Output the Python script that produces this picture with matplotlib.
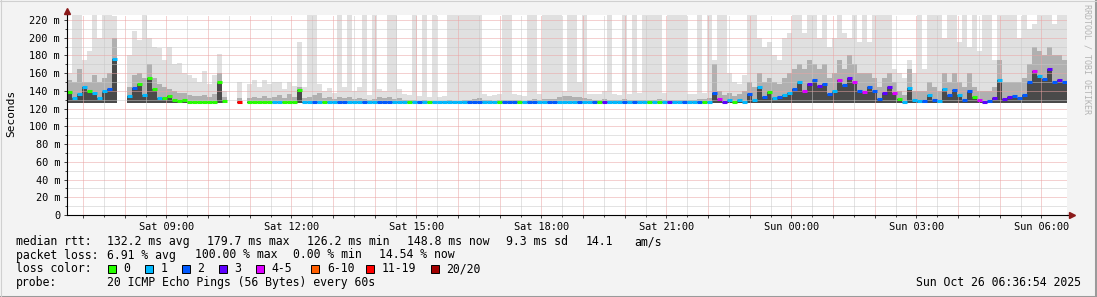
import numpy as np
import matplotlib.pyplot as plt
from matplotlib.patches import Rectangle
from matplotlib.lines import Line2D

nan = np.nan

# window: Sat 06:36:54 -> Sun 06:36:54, hours since Sat 00:00
T_START = 6 + 36 / 60 + 54 / 3600
STEP = 0.12          # hours per smoke column (200 columns)
BASE = 126.0         # lowest ping (ms)

# median rtt per column (ms)
med = [
    139, 132, 137, 145, 140, 138, 132, 140, 142, 176,
    nan, nan, 134, 143, 148, 135, 155, 142, 132, 132,
    134, 130, 129, 130, 128, 128, 128, 128, 128, 128,
    150, 129, nan, nan, 128, nan, 127, 127, 127, 127,
    127, 128, 128, 127, 128, 128, 141, 127, 127, 127,
    127, 127, 127, 127, 127, 127, 127, 127, 127, 127,
    127, 127, 127, 127, 127, 127, 127, 127, 127, 127,
    127, 127, 127, 127, 127, 127, 127, 127, 127, 127,
    127, 127, 127, 127, 127, 127, 127, 127, 127, 127,
    127, 127, 127, 127, 127, 127, 127, 127, 127, 127,
    127, 127, 127, 127, 127, 127, 127, 127, 127, 127,
    127, 127, 127, 127, 127, 127, 127, 127, 127, 127,
    127, 127, 127, 127, 127, 127, 127, 127, 127, 138,
    131, 128, 130, 128, 130, 128, 136, 130, 145, 133,
    139, 132, 133, 135, 138, 142, 150, 140, 148, 152,
    146, 148, 136, 140, 152, 147, 155, 150, 140, 139,
    145, 140, 131, 138, 144, 138, 131, 128, 143, 130,
    129, 129, 135, 130, 129, 142, 135, 141, 135, 130,
    140, 133, 130, 128, 129, 132, 152, 131, 133, 134,
    132, 135, 150, 162, 157, 153, 165, 150, 152, 150,
]

# loss class per column (index into LOSS_COLORS)
loss = [
    0, 1, 1, 1, 0, 1, 1, 1, 2, 1,
    0, 0, 1, 2, 0, 1, 0, 0, 1, 0,
    0, 0, 0, 0, 0, 0, 0, 0, 0, 0,
    0, 0, 0, 0, 6, 0, 0, 0, 0, 0,
    0, 1, 1, 0, 0, 0, 0, 1, 1, 2,
    1, 0, 1, 1, 2, 2, 1, 1, 1, 2,
    1, 1, 2, 2, 2, 1, 1, 1, 0, 1,
    2, 1, 0, 1, 1, 1, 1, 1, 1, 1,
    2, 2, 2, 1, 1, 1, 0, 2, 2, 2,
    0, 1, 2, 2, 1, 1, 2, 2, 1, 1,
    1, 1, 2, 1, 1, 2, 0, 3, 1, 1,
    1, 2, 1, 2, 1, 1, 0, 1, 0, 1,
    3, 1, 1, 2, 1, 1, 2, 0, 1, 2,
    4, 3, 1, 0, 1, 1, 2, 1, 1, 2,
    0, 1, 2, 1, 1, 2, 1, 4, 3, 2,
    3, 2, 2, 1, 4, 2, 3, 4, 2, 4,
    2, 2, 2, 3, 3, 4, 0, 1, 1, 1,
    1, 2, 1, 2, 1, 1, 2, 2, 1, 2,
    2, 0, 4, 3, 2, 3, 1, 3, 3, 2,
    2, 2, 2, 4, 1, 2, 3, 2, 3, 2,
]

# top of dense smoke per column (ms)
core = [
    152, 150, 165, 150, 150, 158, 150, 155, 160, 200,
    nan, nan, 145, 158, 160, 155, 170, 155, 148, 145,
    142, 140, 138, 138, 135, 134, 134, 135, 133, 136,
    160, 133, nan, nan, 132, nan, 132, 133, 132, 134,
    132, 133, 135, 132, 136, 133, 145, 132, 133, 135,
    138, 132, 133, 131, 133, 132, 133, 131, 132, 131,
    130, 131, 133, 132, 133, 131, 132, 130, 130, 130,
    129, 130, 129, 129, 129, 129, 130, 129, 129, 130,
    130, 131, 132, 130, 130, 129, 130, 130, 130, 130,
    130, 129, 130, 131, 130, 131, 131, 131, 133, 134,
    134, 133, 133, 132, 131, 130, 130, 131, 130, 130,
    130, 131, 130, 130, 130, 130, 130, 130, 131, 130,
    130, 130, 130, 130, 130, 130, 131, 131, 132, 170,
    140, 135, 138, 134, 136, 140, 150, 145, 160, 150,
    155, 150, 148, 155, 160, 165, 170, 165, 175, 170,
    165, 170, 155, 160, 175, 165, 180, 170, 160, 160,
    160, 155, 145, 155, 160, 150, 140, 135, 165, 140,
    140, 140, 150, 145, 140, 160, 150, 160, 150, 145,
    160, 145, 140, 140, 140, 145, 175, 150, 150, 150,
    150, 155, 170, 190, 185, 180, 190, 180, 180, 175,
]

# highest ping per column (ms), 230 = off the top of the graph
hi = [
    160, 230, 230, 175, 185, 230, 200, 230, 230, 225,
    nan, nan, 180, 208, 198, 230, 200, 190, 188, 175,
    190, 170, 172, 160, 158, 155, 150, 162, 148, 158,
    182, 140, nan, nan, 150, nan, 148, 152, 145, 152,
    148, 150, 150, 142, 150, 146, 195, 145, 230, 230,
    148, 140, 143, 138, 230, 145, 230, 140, 145, 230,
    135, 230, 142, 140, 230, 230, 142, 136, 135, 230,
    134, 230, 133, 230, 133, 134, 230, 230, 230, 230,
    230, 230, 230, 136, 134, 135, 137, 230, 230, 136,
    135, 134, 230, 230, 137, 230, 230, 230, 230, 140,
    230, 230, 150, 230, 137, 136, 137, 140, 230, 136,
    135, 230, 137, 230, 138, 230, 230, 230, 230, 138,
    230, 230, 230, 230, 136, 137, 230, 138, 230, 175,
    230, 230, 160, 150, 148, 158, 230, 230, 200, 190,
    195, 180, 175, 200, 205, 230, 230, 205, 230, 230,
    200, 230, 190, 200, 230, 205, 200, 230, 195, 230,
    195, 230, 230, 230, 230, 165, 160, 155, 175, 160,
    230, 165, 230, 230, 230, 200, 230, 230, 195, 230,
    190, 230, 185, 230, 230, 175, 230, 230, 230, 230,
    200, 230, 210, 215, 230, 230, 230, 215, 230, 230,
]

LOSS_COLORS = ['#26ff00', '#00b8ff', '#0059ff', '#5e00ff',
               '#dd00ff', '#ff5e00', '#ff0000', '#a10000']
LOSS_LABELS = ['0', '1', '2', '3', '4-5', '6-10', '11-19', '20/20']

tick_hours = [9, 12, 15, 18, 21, 24, 27, 30]
tick_labels = ['Sat 09:00', 'Sat 12:00', 'Sat 15:00', 'Sat 18:00',
               'Sat 21:00', 'Sun 00:00', 'Sun 03:00', 'Sun 06:00']
y_ticks = [0, 20, 40, 60, 80, 100, 120, 140, 160, 180, 200, 220]
y_labels = ['0'] + [f'{v} m' for v in y_ticks[1:]]

stats_rtt = ['132.2 ms avg', '179.7 ms max', '126.2 ms min', '148.8 ms now',
             '9.3 ms sd', '14.1', 'am/s']
stats_loss = ['6.91 % avg', '100.00 % max', '0.00 % min', '14.54 % now']

plt.rcParams['font.family'] = 'DejaVu Sans Mono'

W, H = 1097, 297
fig = plt.figure(figsize=(W / 100, H / 100), dpi=100, facecolor='#f3f3f3')
ax = fig.add_axes([67 / W, (H - 215) / H, 1000 / W, 200 / H])
ax.set_facecolor('white')

med = np.array(med, dtype=float)
core = np.array(core, dtype=float)
hi = np.array(hi, dtype=float)
loss = np.array(loss)
assert len(med) == len(core) == len(hi) == len(loss) == 200
x = T_START + np.arange(len(med)) * STEP
ok = ~np.isnan(med)

# smoke
ax.bar(x[ok], hi[ok] - BASE, bottom=BASE, width=STEP, align='edge',
       color='#e0e0e0', linewidth=0, antialiased=False, zorder=1)
ax.bar(x[ok], core[ok] - BASE, bottom=BASE, width=STEP, align='edge',
       color='#b0b0b0', linewidth=0, antialiased=False, zorder=1.1)
ax.bar(x[ok], med[ok] - BASE, bottom=BASE, width=STEP, align='edge',
       color='#4a4a4a', linewidth=0, antialiased=False, zorder=1.2)
# median, coloured by loss
ax.hlines(med[ok], x[ok], x[ok] + STEP,
          colors=[LOSS_COLORS[k] for k in loss[ok]], linewidth=2.2, zorder=4)

ax.set_xlim(T_START, T_START + 24)
ax.set_ylim(0, 225.7)

hours = np.arange(7, 31)
ax.set_xticks(hours)
ax.set_xticklabels([tick_labels[tick_hours.index(h)] if h in tick_hours else ''
                    for h in hours])
ax.set_xticks(hours[:-1] + 0.5, minor=True)
ax.set_yticks(y_ticks)
ax.set_yticklabels(y_labels)
ax.set_yticks(np.arange(10, 230, 20), minor=True)

ax.set_axisbelow(False)
ax.grid(which='major', color='#eaa3a3', linestyle=(0, (1, 1)), linewidth=0.72)
ax.grid(which='minor', color='#c8c8c8', linestyle=(0, (1, 1)), linewidth=0.72)
ax.tick_params(which='both', direction='out', labelsize=7.4, colors='#444444',
               labelcolor='black', width=0.72)
ax.tick_params(which='major', length=2.5)
ax.tick_params(which='minor', length=1.5)
ax.tick_params(axis='y', pad=2.5)
ax.tick_params(axis='x', pad=2.5)

for s in ['top', 'right']:
    ax.spines[s].set_visible(False)
for s in ['left', 'bottom']:
    ax.spines[s].set_color('black')
    ax.spines[s].set_linewidth(0.8)
    ax.spines[s].set_zorder(5)

# axis arrows
ax.plot([T_START, T_START], [225.7, 229], color='black', lw=0.8, clip_on=False)
ax.plot([T_START], [230], marker='^', color='#8b1a1a', markersize=4.5,
        clip_on=False, zorder=6)
ax.plot([T_START + 24, T_START + 24.08], [0, 0], color='black', lw=0.8, clip_on=False)
ax.plot([T_START + 24.12], [0], marker='>', color='#8b1a1a', markersize=4.5,
        clip_on=False, zorder=6)


def fp(px, py):
    return px / W, 1 - py / H


fig.text(*fp(11, 113), 'Seconds', rotation=90, ha='center', va='center', fontsize=8)
fig.text(*fp(1087.5, 59), 'RRDTOOL / TOBI OETIKER', rotation=270, ha='center',
         va='center', fontsize=6, color='#b4b4b4')

fs = 8.3
row_y = [241.7, 255, 269, 282.7]
fig.text(*fp(15.8, row_y[0]), 'median rtt:', va='center', fontsize=fs)
for xp, s in zip([107, 207, 307, 407, 506, 586, 634], stats_rtt):
    fig.text(*fp(xp, row_y[0]), s, va='center', fontsize=fs)

fig.text(*fp(15.8, row_y[1]), 'packet loss:', va='center', fontsize=fs)
for xp, s in zip([107, 194.7, 292.9, 379], stats_loss):
    fig.text(*fp(xp, row_y[1]), s, va='center', fontsize=fs)

fig.text(*fp(15.8, row_y[2]), 'loss color:', va='center', fontsize=fs)
box_x = [108, 145, 182, 219, 256, 311.5, 366, 431]
for bx, c, lab in zip(box_x, LOSS_COLORS, LOSS_LABELS):
    fig.patches.append(Rectangle(fp(bx, 273), 8 / W, 8 / H, transform=fig.transFigure,
                                 facecolor=c, edgecolor='black', linewidth=0.7))
    fig.text(*fp(bx + 15.5, row_y[2]), lab, va='center', fontsize=fs)

fig.text(*fp(15.8, row_y[3]), 'probe:', va='center', fontsize=fs)
fig.text(*fp(107, row_y[3]), '20 ICMP Echo Pings (56 Bytes) every 60s',
         va='center', fontsize=fs)
fig.text(*fp(1080.5, row_y[3]), 'Sun Oct 26 06:36:54 2025', ha='right',
         va='center', fontsize=fs)

# frame shading
fig.add_artist(Line2D([0, 1], [0.5 / H, 0.5 / H], transform=fig.transFigure,
                      color='#9a9a9a', lw=2.2))
fig.add_artist(Line2D([1 - 1 / W, 1 - 1 / W], [0, 1], transform=fig.transFigure,
                      color='#9a9a9a', lw=2.2))
fig.add_artist(Line2D([0, 1], [1 - 0.5 / H, 1 - 0.5 / H], transform=fig.transFigure,
                      color='#d0d0d0', lw=0.8))
fig.add_artist(Line2D([0.5 / W, 0.5 / W], [0, 1], transform=fig.transFigure,
                      color='#d0d0d0', lw=0.8))

fig.savefig('out.png', dpi=100, facecolor=fig.get_facecolor())
